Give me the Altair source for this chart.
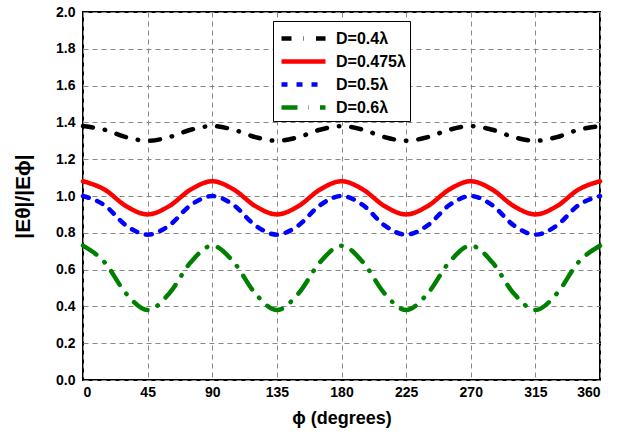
import altair as alt
import pandas as pd

phi = [0, 15, 30, 45, 60, 75, 90, 105, 120, 135, 150, 165, 180,
       195, 210, 225, 240, 255, 270, 285, 300, 315, 330, 345, 360]

d04 = [1.38, 1.36, 1.32, 1.30, 1.32, 1.36, 1.38, 1.36, 1.32, 1.30, 1.32, 1.36, 1.38,
       1.36, 1.32, 1.30, 1.32, 1.36, 1.38, 1.36, 1.32, 1.30, 1.32, 1.36, 1.38]
d0475 = [1.08, 1.035, 0.945, 0.90, 0.945, 1.035, 1.08, 1.035, 0.945, 0.90, 0.945, 1.035, 1.08,
         1.035, 0.945, 0.90, 0.945, 1.035, 1.08, 1.035, 0.945, 0.90, 0.945, 1.035, 1.08]
d05 = [1.00, 0.95, 0.84, 0.79, 0.84, 0.95, 1.00, 0.95, 0.84, 0.79, 0.84, 0.95, 1.00,
       0.95, 0.84, 0.79, 0.84, 0.95, 1.00, 0.95, 0.84, 0.79, 0.84, 0.95, 1.00]
d06 = [0.73, 0.64, 0.47, 0.38, 0.47, 0.64, 0.73, 0.64, 0.47, 0.38, 0.47, 0.64, 0.73,
       0.64, 0.47, 0.38, 0.47, 0.64, 0.73, 0.64, 0.47, 0.38, 0.47, 0.64, 0.73]

series_names = ["D=0.4λ", "D=0.475λ", "D=0.5λ", "D=0.6λ"]
series_values = [d04, d0475, d05, d06]
series_colors = ["#000000", "#ff0000", "#0000ff", "#008000"]
series_dashes = [[10, 12, 0.5, 12], [1, 0], [6, 9], [16, 11, 0.5, 11]]

rows = []
for name, vals in zip(series_names, series_values):
    for p, v in zip(phi, vals):
        rows.append({"phi": p, "value": v, "series": name})
df = pd.DataFrame(rows)

FONT = "Liberation Sans"

legend_kw = dict(
    title=None, orient="none", legendX=190, legendY=9,
    symbolType="M-1,0H3", symbolSize=484, symbolStrokeWidth=4.5,
    symbolOffset=2,
    labelFont=FONT, labelFontSize=16, labelFontWeight="bold", labelColor="black",
    labelOffset=30,
    fillColor="white", strokeColor="black",
    padding=4, rowPadding=-1,
)

chart = alt.Chart(df).mark_line(
    strokeWidth=4.5, interpolate="monotone", strokeCap="round"
).encode(
    x=alt.X("phi:Q",
            scale=alt.Scale(domain=[0, 360], nice=False),
            axis=alt.Axis(values=[0, 45, 90, 135, 180, 225, 270, 315, 360],
                          title="ϕ (degrees)", format="d")),
    y=alt.Y("value:Q",
            scale=alt.Scale(domain=[0, 2], nice=False),
            axis=alt.Axis(values=[0, 0.2, 0.4, 0.6, 0.8, 1.0, 1.2, 1.4, 1.6, 1.8, 2.0],
                          title="|Eθ|/|Eϕ|", format=".1f")),
    color=alt.Color("series:N",
                    scale=alt.Scale(domain=series_names, range=series_colors),
                    legend=alt.Legend(**legend_kw)),
    strokeDash=alt.StrokeDash("series:N",
                              scale=alt.Scale(domain=series_names, range=series_dashes),
                              legend=alt.Legend(**legend_kw)),
).properties(
    width=517, height=368,
    autosize=alt.AutoSizeParams(type="none"),
    padding={"left": 83, "top": 12, "right": 27, "bottom": 65},
).configure_view(
    stroke="black", strokeWidth=2
).configure_axis(
    grid=True, gridColor="#888888", gridDash=[5, 4], gridWidth=1,
    domain=False, ticks=False,
    labelFont=FONT, labelFontSize=14, labelFontWeight="bold", labelColor="black",
    titleFont=FONT, titleFontWeight="bold", titleColor="black",
).configure_axisX(
    labelPadding=5, titleFontSize=18, titlePadding=10
).configure_axisY(
    labelPadding=8, titleFontSize=21, titlePadding=22
)

chart.save("out.html", embed_options={"renderer": "svg", "actions": False})
